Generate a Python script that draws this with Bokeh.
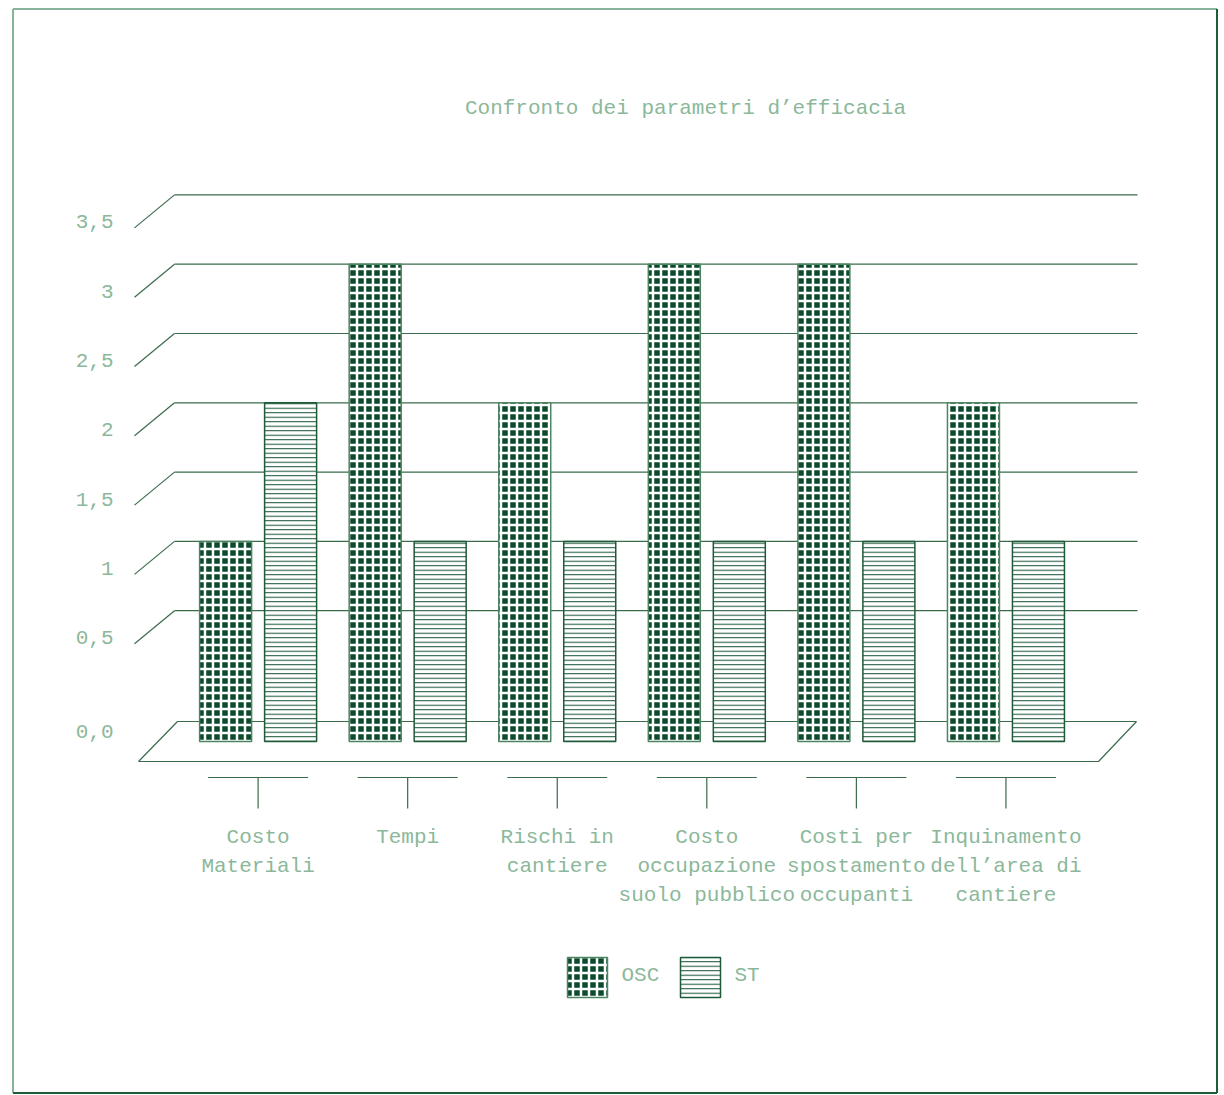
from bokeh.plotting import figure
from bokeh.models import Range1d
from bokeh.core.properties import value
from bokeh.embed import file_html
from bokeh.resources import INLINE

# ---------------- data ----------------
categories = ["Costo\nMateriali", "Tempi", "Rischi in\ncantiere",
              "Costo\noccupazione\nsuolo pubblico",
              "Costi per\nspostamento\noccupanti",
              "Inquinamento\ndell\u2019area di\ncantiere"]
osc = [1, 3, 2, 3, 3, 2]
st = [2, 1, 1, 1, 1, 1]
series_names = ["OSC", "ST"]
y_ticks = [0.0, 0.5, 1.0, 1.5, 2.0, 2.5, 3.0, 3.5]
y_tick_labels = ["0,0", "0,5", "1", "1,5", "2", "2,5", "3", "3,5"]
title_text = "Confronto dei parametri d\u2019efficacia"

# ---------------- layout (image pixels -> data units) ----------------
W, H = 1224, 1095
M = 0
X0 = 257.6 - M             # canvas px of category 0
UX = 149.57                # px per category
Y0 = 679.5 - M             # canvas px (from top) of value 0
UY = 138.6                 # px per unit value


def fx(px):
    return (px - M - X0) / UX


def fy(py):
    return (Y0 - (py - M)) / UY


FONT = value("Liberation Mono")
FS = "21px"
TXT = "#8bb89a"
GRID = "#3a6b4b"
DARK = "#0b4a2a"

p = figure(width=W, height=H, output_backend="svg", toolbar_location=None,
           x_range=Range1d(-X0 / UX, (W - X0) / UX),
           y_range=Range1d((Y0 - H) / UY, Y0 / UY),
           x_axis_location=None, y_axis_location=None,
           min_border=0, outline_line_color=None)
p.grid.visible = False
p.background_fill_color = "white"
p.border_fill_color = "white"

# outer border
p.segment(x0=[fx(12.5), fx(12.5)], y0=[fy(8.5), fy(8.5)],
          x1=[fx(1216.5), fx(12.5)], y1=[fy(8.5), fy(1092.5)],
          line_color="#86b39a", line_width=2)
p.segment(x0=[fx(1216.5), fx(12.5)], y0=[fy(8.5), fy(1092.5)],
          x1=[fx(1216.5), fx(1216.5)], y1=[fy(1092.5), fy(1092.5)],
          line_color="#1f5c3a", line_width=2)

# title
p.text(x=[fx(685)], y=[fy(108)], text=[title_text], text_font=FONT,
       text_font_size=FS, text_color=TXT, text_align="center",
       text_baseline="middle")

# gridlines (back plane + side diagonal)
dx = 40 / UX
dy = 33 / UY
levels = [v for v in y_ticks if v > 0]
p.segment(x0=[fx(174)] * len(levels), y0=levels,
          x1=[fx(1137)] * len(levels), y1=levels,
          line_color=GRID, line_width=1.2)
p.segment(x0=[fx(174) - dx] * len(levels), y0=[v - dy for v in levels],
          x1=[fx(174)] * len(levels), y1=levels,
          line_color=GRID, line_width=1.2)

# floor
p.patch(x=[fx(138), fx(1098), fx(1136), fx(177)],
        y=[fy(761), fy(761), fy(721), fy(721)],
        fill_color=None, line_color=GRID, line_width=1.2)

# y tick labels
lab_y = [fy(731) if v == 0 else v - 27 / UY for v in y_ticks]
p.text(x=[fx(113)] * len(y_ticks), y=lab_y, text=y_tick_labels,
       text_font=FONT, text_font_size=FS, text_color=TXT,
       text_align="right", text_baseline="middle")

# bars
BASE = fy(741)
BW = 52 / UX
OFFS = 32.5 / UX
xs = list(range(len(categories)))
p.vbar(x=[i - OFFS for i in xs], top=osc, bottom=BASE, width=BW,
       fill_color=DARK, hatch_pattern="+", hatch_color="white",
       hatch_scale=8, hatch_weight=2.5,
       line_color="#4d8462", line_width=1.5)
p.vbar(x=[i + OFFS for i in xs], top=st, bottom=BASE, width=BW,
       fill_color="white", hatch_pattern="-", hatch_color="#0f4f2e",
       hatch_scale=4.5, hatch_weight=1,
       line_color="#1f5a38", line_width=1.5)

# category ticks
hw = 50 / UX
p.segment(x0=[i - hw for i in xs], y0=[fy(777)] * len(xs),
          x1=[i + hw for i in xs], y1=[fy(777)] * len(xs),
          line_color=GRID, line_width=1.2)
p.segment(x0=xs, y0=[fy(777)] * len(xs), x1=xs, y1=[fy(808)] * len(xs),
          line_color=GRID, line_width=1.2)

# category labels
p.text(x=xs, y=[fy(825)] * len(xs), text=categories, text_font=FONT,
       text_font_size=FS, text_color=TXT, text_align="center",
       text_baseline="top", text_line_height=1.27)

# legend
p.rect(x=[fx(587)], y=[fy(977)], width=40 / UX, height=40 / UY,
       fill_color=DARK, hatch_pattern="+", hatch_color="white",
       hatch_scale=8, hatch_weight=2.5, line_color="#4d8462", line_width=1.5)
p.rect(x=[fx(700)], y=[fy(977)], width=40 / UX, height=40 / UY,
       fill_color="white", hatch_pattern="-", hatch_color="#0f4f2e",
       hatch_scale=4.5, hatch_weight=1, line_color="#1f5a38", line_width=1.5)
p.text(x=[fx(621), fx(734)], y=[fy(975), fy(975)], text=series_names,
       text_font=FONT, text_font_size=FS, text_color=TXT,
       text_align="left", text_baseline="middle")

open("out.html", "w").write(file_html(p, INLINE))
